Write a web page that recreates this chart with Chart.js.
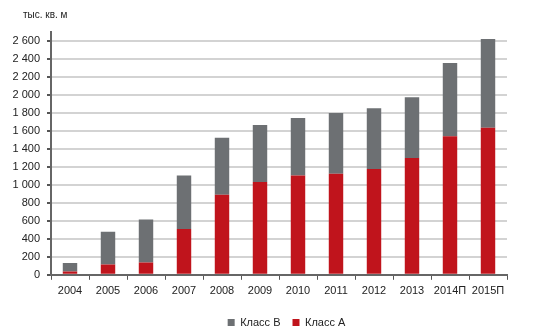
<!DOCTYPE html>
<html>
<head>
<meta charset="utf-8">
<script src="https://cdn.jsdelivr.net/npm/chart.js@4/dist/chart.umd.min.js"></script>
<style>
  html, body { margin: 0; padding: 0; background: #fff; }
  #wrap { width: 554px; height: 336px; }
</style>
</head>
<body>
<div id="wrap"><canvas id="chart" width="554" height="336"></canvas></div>
<script>
// years, forecast years marked with "П"
const years = ['2004', '2005', '2006', '2007', '2008', '2009', '2010', '2011', '2012', '2013', '2014П', '2015П'];
// class A stock (bottom, red)
const classA = [37, 115, 137, 510, 890, 1031, 1103, 1125, 1177, 1300, 1542, 1634];
// total stock
const totals = [131, 480, 614, 1103, 1525, 1665, 1743, 1800, 1853, 1974, 2354, 2622];
// class B = total minus class A
const classB = totals.map((t, i) => t - classA[i]);
const yTicks = [0, 200, 400, 600, 800, 1000, 1200, 1400, 1600, 1800, 2000, 2200, 2400, 2600];
const unitLabel = 'тыс. кв. м';

const FONT = '"Liberation Sans", Arial, sans-serif';

// draws the unit caption top-left
const unitPlugin = {
    id: 'unitCaption',
    afterLayout(chart) {
        // legend sits a bit right of centre and lower in the original
        chart.legend.left += 33;
        chart.legend.right += 33;
        chart.legend.top += 2;
        chart.legend.bottom += 2;
    },
    afterDraw(chart) {
        const c = chart.ctx;
        c.save();
        c.font = '10px ' + FONT;
        c.fillStyle = '#222';
        c.textBaseline = 'middle';
        c.fillText(unitLabel, 23, 15);
        c.restore();
    }
};

var ctx = document.getElementById('chart');
var chart = new Chart(ctx, {
    type: 'bar',
    data: {
        labels: years,
        datasets: [
            {
                label: 'Класс A',
                data: classA,
                backgroundColor: '#c0141c',
                barPercentage: 0.38,
                categoryPercentage: 1
            },
            {
                label: 'Класс B',
                data: classB,
                backgroundColor: '#6d7073',
                barPercentage: 0.38,
                categoryPercentage: 1
            }
        ]
    },
    options: {
        responsive: false,
        animation: false,
        layout: { padding: { top: 32, right: 47, left: 0, bottom: 0 } },
        plugins: {
            tooltip: { enabled: false },
            title: { display: false },
            legend: {
                position: 'bottom',
                reverse: true,
                labels: {
                    boxWidth: 7,
                    boxHeight: 7,
                    padding: 12,
                    color: '#222',
                    font: { family: FONT, size: 11 }
                }
            }
        },
        scales: {
            x: {
                stacked: true,
                grid: {
                    display: true,
                    drawOnChartArea: false,
                    offset: true,
                    tickLength: 5,
                    tickColor: '#555'
                },
                border: { color: '#666', width: 2 },
                ticks: {
                    color: '#222',
                    padding: 5,
                    maxRotation: 0,
                    autoSkip: false,
                    font: { family: FONT, size: 11 }
                }
            },
            y: {
                stacked: true,
                min: 0,
                max: 2700,
                afterBuildTicks(scale) {
                    scale.ticks = yTicks.map(v => ({ value: v }));
                },
                afterFit(scale) {
                    scale.width = 51;
                },
                grid: {
                    color: '#d3d3d3',
                    lineWidth: 2,
                    tickLength: 4,
                    tickColor: '#555'
                },
                border: { color: '#666', width: 2 },
                ticks: {
                    color: '#222',
                    padding: 7,
                    font: { family: FONT, size: 11 },
                    callback: v => String(v).replace(/\B(?=(\d{3})+(?!\d))/g, ' ')
                }
            }
        }
    },
    plugins: [unitPlugin]
});
</script>
</body>
</html>
